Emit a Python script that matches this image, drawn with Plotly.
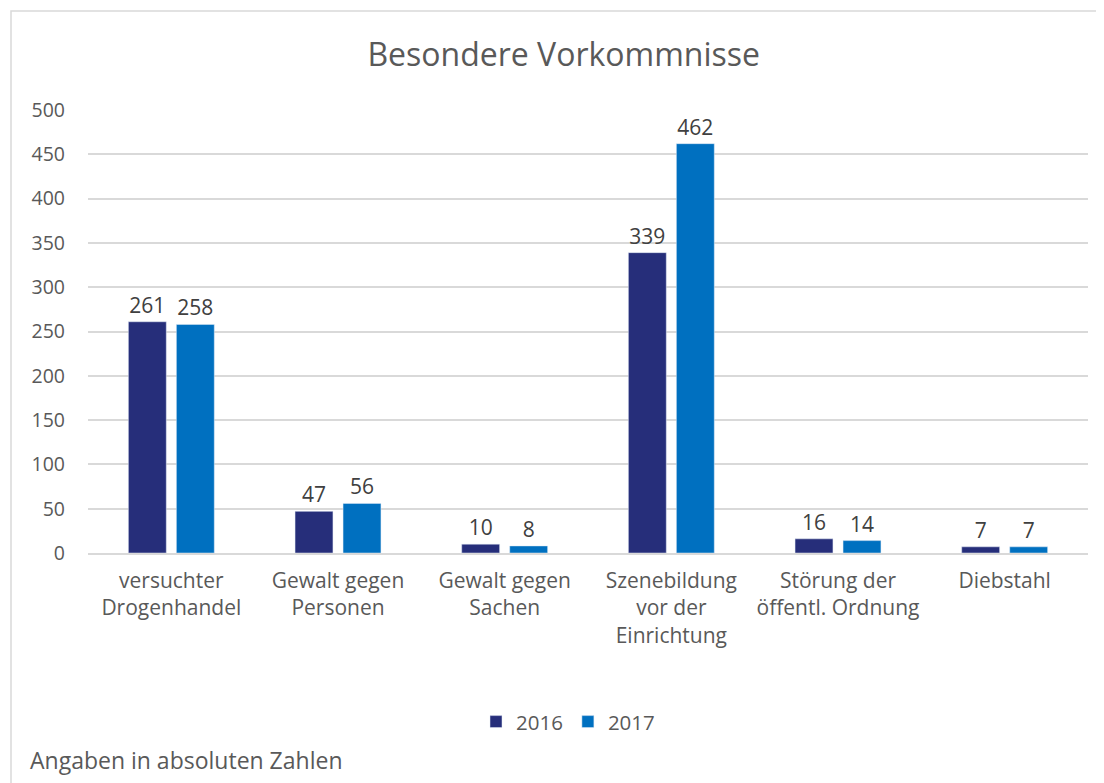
import plotly.graph_objects as go

categories = [
    "versuchter<br>Drogenhandel",
    "Gewalt gegen<br>Personen",
    "Gewalt gegen<br>Sachen",
    "Szenebildung<br>vor der<br>Einrichtung",
    "Störung der<br>öffentl. Ordnung",
    "Diebstahl",
]
values_2016 = [261, 47, 10, 339, 16, 7]
values_2017 = [258, 56, 8, 462, 14, 7]
y_ticks = [0, 50, 100, 150, 200, 250, 300, 350, 400, 450, 500]

FONT = "Open Sans"
TEXT = "#595959"

fig = go.Figure()
fig.add_trace(go.Bar(x=categories, y=values_2016, name="2016", marker_color="#262E7A",
                     text=values_2016, textposition="outside", cliponaxis=False,
                     textfont=dict(size=21, color="#404040")))
fig.add_trace(go.Bar(x=categories, y=values_2017, name="2017", marker_color="#0070C0",
                     text=values_2017, textposition="outside", cliponaxis=False,
                     textfont=dict(size=21, color="#404040")))

# page body adds an 8px offset, so the figure is a bit smaller than the window
fig.update_layout(
    width=1096,
    height=775,
    margin=dict(l=80, r=16, t=102, b=230),
    paper_bgcolor="white",
    plot_bgcolor="white",
    font=dict(family=FONT, color=TEXT, size=20),
    title=dict(text="Besondere Vorkommnisse", x=0.507, xanchor="center", y=0.94, yanchor="middle",
               font=dict(size=32, color=TEXT)),
    barmode="group",
    bargap=0.424,
    bargroupgap=0.21,
    showlegend=True,
    legend=dict(orientation="h", x=0.48, xanchor="center", y=-0.381, yanchor="middle",
                font=dict(size=20.5, color=TEXT), itemwidth=30, traceorder="normal"),
    xaxis=dict(showgrid=False, showline=True, linecolor="#d9d9d9", linewidth=1.5,
               tickfont=dict(size=21, color=TEXT), ticks="", ticklabelstandoff=8),
    yaxis=dict(range=[0, 500], tickvals=y_ticks, showgrid=True, gridcolor="#d9d9d9", gridwidth=1.5,
               zeroline=False, tickfont=dict(size=19.5, color=TEXT), ticklabelstandoff=22),
    shapes=[dict(type="rect", xref="paper", yref="paper", x0=-0.077, x1=1.1, y0=-0.7, y1=1.2235,
                 line=dict(color="#d9d9d9", width=1.5), fillcolor="rgba(0,0,0,0)", layer="below")],
    annotations=[dict(text="Angaben in absoluten Zahlen", xref="paper", yref="paper", x=-0.06, y=-0.467,
                      xanchor="left", yanchor="middle", showarrow=False, font=dict(size=23, color=TEXT))],
)

fig.write_html("out.html")
